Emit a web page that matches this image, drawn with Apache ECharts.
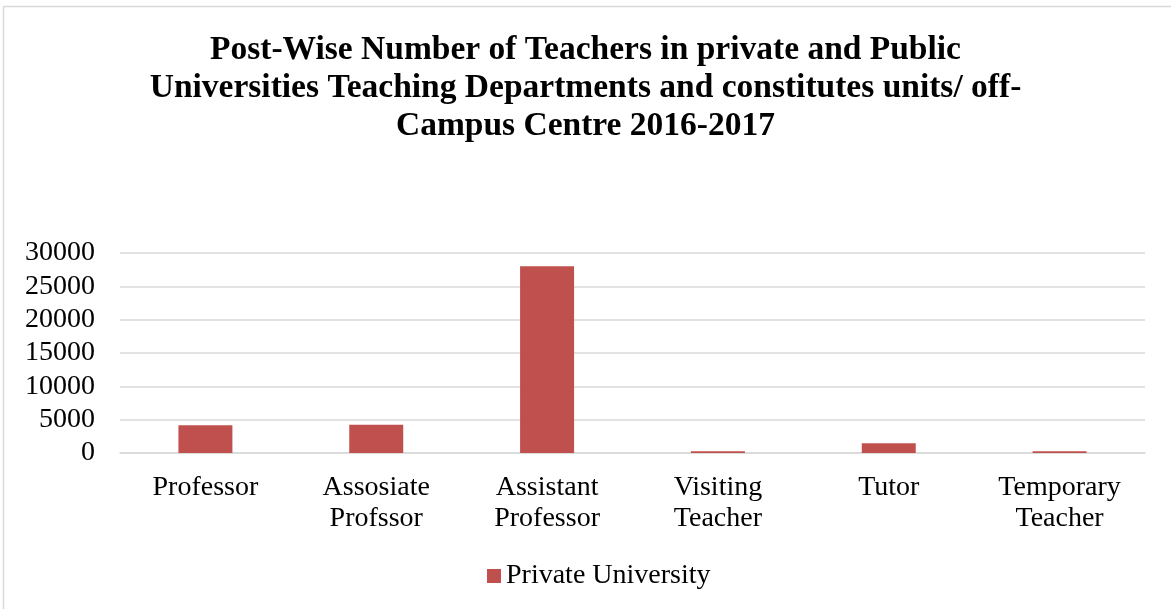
<!DOCTYPE html>
<html>
<head>
<meta charset="utf-8">
<script src="https://cdn.jsdelivr.net/npm/echarts@6/dist/echarts.min.js"></script>
<style>
html,body{margin:0;padding:0;background:#fff;}
#chart{width:1171px;height:609px;}
</style>
</head>
<body>
<div id="chart"></div>
<script>
// Post categories along the x axis
const categories = ['Professor', 'Assosiate\nProfssor', 'Assistant\nProfessor', 'Visiting\nTeacher', 'Tutor', 'Temporary\nTeacher'];
// Number of teachers per post
const privateUniversity = [4150, 4250, 28000, 250, 1450, 250];
const seriesName = 'Private University';
const titleText = 'Post-Wise Number of Teachers in private and Public\nUniversities Teaching Departments and constitutes units/ off-\nCampus Centre 2016-2017';

const font = 'Liberation Serif, Times New Roman, serif';
const chart = echarts.init(document.getElementById('chart'));
chart.setOption({
  animation: false,
  backgroundColor: '#fff',
  graphic: [{
    type: 'rect',
    shape: { x: 3.5, y: 6.5, width: 1200, height: 700 },
    style: { fill: 'none', stroke: '#d9d9d9', lineWidth: 1.5 },
    silent: true
  }],
  title: {
    text: titleText,
    left: 'center',
    top: 26,
    textStyle: { fontFamily: font, fontSize: 33.5, fontWeight: 'bold', color: '#000', lineHeight: 38 }
  },
  legend: {
    data: [seriesName],
    bottom: 14,
    left: 482,
    itemWidth: 14,
    itemHeight: 14,
    icon: 'rect',
    itemGap: 4,
    textStyle: { fontFamily: font, fontSize: 28, color: '#000', padding: [0, 0, 0, 0] }
  },
  grid: { left: 120, right: 26, top: 253, bottom: 156, containLabel: false },
  xAxis: {
    type: 'category',
    data: categories,
    axisLine: { show: true, lineStyle: { color: '#d9d9d9', width: 1.5 } },
    axisTick: { show: false },
    axisLabel: { fontFamily: font, fontSize: 28, color: '#000', lineHeight: 31, margin: 19, interval: 0 }
  },
  yAxis: {
    type: 'value',
    min: 0,
    max: 30000,
    interval: 5000,
    axisLine: { show: false },
    axisTick: { show: false },
    splitLine: { lineStyle: { color: '#d9d9d9', width: 1.5 } },
    axisLabel: { fontFamily: font, fontSize: 28, color: '#000', margin: 25, formatter: v => String(v) }
  },
  series: [{
    name: seriesName,
    type: 'bar',
    data: privateUniversity,
    barWidth: '31.6%',
    itemStyle: { color: '#C0504D' }
  }]
});
</script>
</body>
</html>
